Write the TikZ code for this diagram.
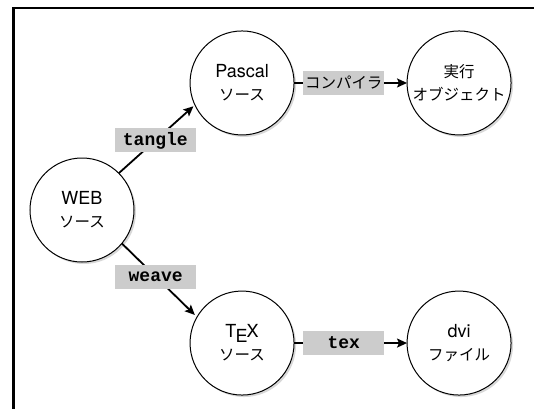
\documentclass[tikz,border=0pt]{standalone}
\usepackage{fontspec}
\setmainfont{TeX Gyre Heros}
\newfontfamily\jpfont{Noto Sans CJK JP}[Scale=0.86]
\newfontfamily\codefont{Liberation Mono}
\usetikzlibrary{positioning}
\usetikzlibrary{shadows}
\usetikzlibrary{arrows.meta}

\newcommand{\texlogo}{T\kern-.05em\lower.5ex\hbox{E}\kern-.05em X}

\begin{document}
\begin{tikzpicture}
    [fileNode/.style={circle, draw=black, line width=1pt, fill=white, inner sep=0pt, outer sep=0pt, minimum size=104pt, align=center, font=\fontsize{18}{23}\selectfont, drop shadow={shadow xshift=2pt, shadow yshift=-2pt, fill=black!30}},
     toolLabel/.style={fill=black!20, inner sep=0pt, minimum width=81pt, minimum height=24pt, font=\fontsize{18}{20}\selectfont},
     flow/.style={-{Stealth[length=10pt, width=9pt, inset=2pt]}, line width=1.8pt},
    ]

    \useasboundingbox (-82pt,-198pt) rectangle (452pt,210pt);
    \draw[line width=2.5pt] (-68.5pt,-205pt) -- (-68.5pt,202.2pt) -- (460pt,202.2pt);

    \node[fileNode] (webSrc) {WEB\\{\jpfont ソース}};
    \node[fileNode] (pascalSrc) [above right=53.5pt and 86.5pt of webSrc] {Pascal\\{\jpfont ソース}};
    \node[fileNode] (execObj) [right=113pt of pascalSrc] {{\jpfont 実行}\\{\jpfont オブジェクト}};
    \node[fileNode] (texSrc) [below right=59.5pt and 86.5pt of webSrc] {\texlogo\\{\jpfont ソース}};
    \node[fileNode] (dviFile) [right=113pt of texSrc] {dvi\\{\jpfont ファイル}};

    \draw[flow, shorten >=2pt] (webSrc.45) -- node[toolLabel, pos=.48] {\codefont\bfseries tangle} (pascalSrc.205);
    \draw[flow, shorten >=3pt] (webSrc.-40) -- node[toolLabel, pos=.45] {\codefont\bfseries weave} (texSrc.150);
    \draw[flow] (pascalSrc) -- node[toolLabel, pos=.44] {\jpfont コンパイラ} (execObj);
    \draw[flow] (texSrc) -- node[toolLabel, pos=.44] {\codefont\bfseries tex} (dviFile);

\end{tikzpicture}
\end{document}
